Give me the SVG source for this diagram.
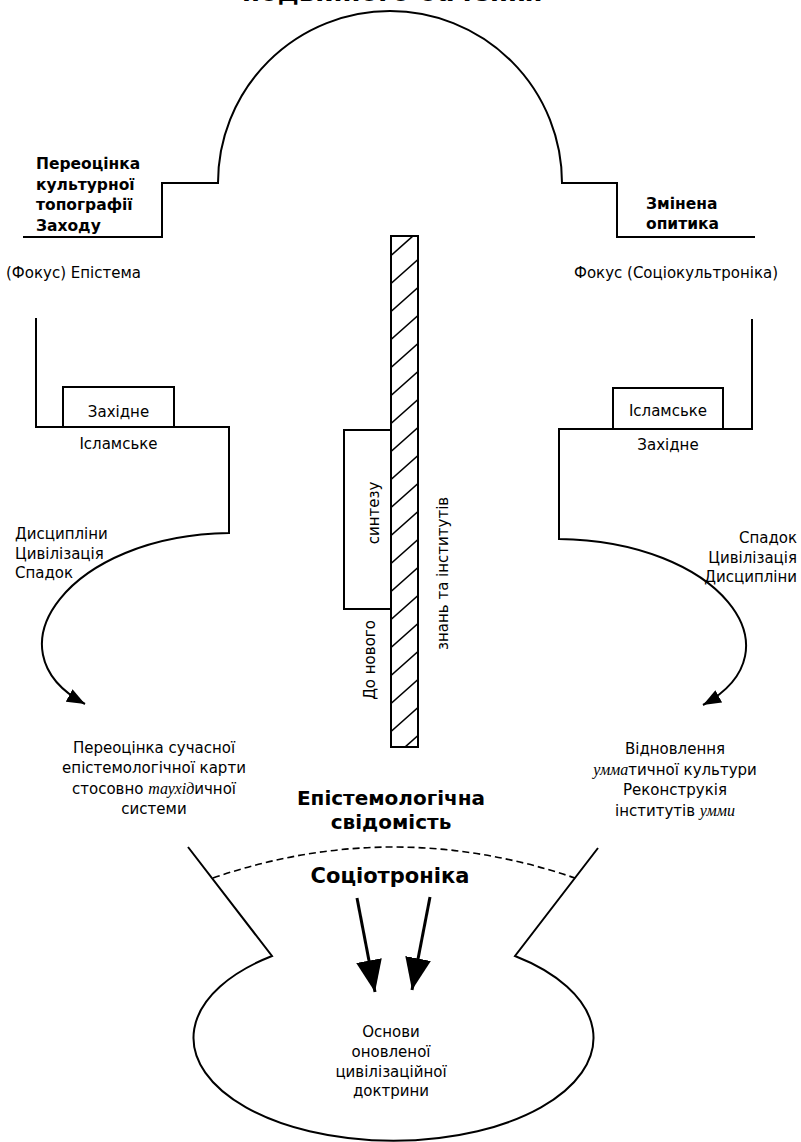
<svg xmlns="http://www.w3.org/2000/svg" width="801" height="1142" viewBox="0 0 801 1142">
<style>
.ln{fill:none;stroke:#000;stroke-width:2}
.bx{fill:#fff;stroke:#000;stroke-width:2}
.t{font-family:"DejaVu Sans","Noto Sans",sans-serif;font-size:15px;fill:#000}
.b{font-weight:bold}
.hb{font-size:15.5px}
.it{font-family:"Liberation Serif",serif;font-style:italic;font-size:16px}
.m{text-anchor:middle}
.e{text-anchor:end}
</style>
<defs>
<marker id="ah" viewBox="0 0 18 14" refX="18" refY="7" markerWidth="18" markerHeight="14" markerUnits="userSpaceOnUse" orient="auto">
<path d="M0,0 L18,7 L0,14 Z" fill="#000"/>
</marker>
<marker id="ahb" viewBox="0 0 32 26" refX="32" refY="13" markerWidth="32" markerHeight="26" markerUnits="userSpaceOnUse" orient="auto">
<path d="M0,0 L32,13 L0,26 Z" fill="#000"/>
</marker>
<clipPath id="barclip"><rect x="391" y="236" width="27" height="511"/></clipPath>
</defs>
<rect width="801" height="1142" fill="#fff"/>

<g id="title">
<text class="t b" x="242" y="1" style="font-size:26px">подвійного бачення</text>
</g>

<g id="dome">
<path class="ln" d="M23,237 H162 V183 H218 A172,172 0 0 1 562,183 H617 V237 H755"/>
</g>

<g id="left-title">
<text class="t b hb" x="36" y="169">Переоцінка</text>
<text class="t b hb" x="36" y="189.5">культурної</text>
<text class="t b hb" x="36" y="210">топографії</text>
<text class="t b hb" x="36" y="230.5">Заходу</text>
</g>

<g id="right-title">
<text class="t b hb" x="646" y="209">Змінена</text>
<text class="t b hb" x="646" y="229">опитика</text>
</g>

<g id="left-focus">
<text class="t" x="6" y="278">(Фокус) Епістема</text>
</g>
<g id="right-focus">
<text class="t" x="574" y="278">Фокус (Соціокультроніка)</text>
</g>

<g id="connectors">
<path class="ln" d="M36,318 V427 H229 V533 C70,535 -15,650 85,704" marker-end="url(#ah)"/>
<path class="ln" d="M752,319 V429 H559 V539 C718,541 803,650 703,705" marker-end="url(#ah)"/>
<path fill="none" stroke="#000" stroke-width="3" d="M357,898 L375,992" marker-end="url(#ahb)"/>
<path fill="none" stroke="#000" stroke-width="3" d="M430,897 L412,990" marker-end="url(#ahb)"/>
</g>

<g id="left-box">
<rect class="bx" x="63" y="387" width="111" height="40"/>
<text class="t m" x="118.5" y="416.5">Західне</text>
<text class="t m" x="118.5" y="449">Ісламське</text>
</g>

<g id="right-box">
<rect class="bx" x="613" y="388" width="110" height="41"/>
<text class="t m" x="668" y="415.5">Ісламське</text>
<text class="t m" x="668" y="450">Західне</text>
</g>

<g id="left-list">
<text class="t" x="15" y="539">Дисципліни</text>
<text class="t" x="15" y="558.5">Цивілізація</text>
<text class="t" x="15" y="578">Спадок</text>
</g>

<g id="right-list">
<text class="t e" x="797" y="543">Спадок</text>
<text class="t e" x="797" y="562.5">Цивілізація</text>
<text class="t e" x="797" y="582">Дисципліни</text>
</g>

<g id="left-result">
<text class="t m" x="154" y="753">Переоцінка сучасної</text>
<text class="t m" x="154" y="773.3">епістемологічної карти</text>
<text class="t m" x="154" y="793.6">стосовно <tspan class="it">таухід</tspan>ичної</text>
<text class="t m" x="154" y="813.9">системи</text>
</g>

<g id="right-result">
<text class="t m" x="675" y="754">Відновлення</text>
<text class="t m" x="675" y="774.5"><tspan class="it">умма</tspan>тичної культури</text>
<text class="t m" x="675" y="795">Реконструкія</text>
<text class="t m" x="675" y="815.5">інститутів <tspan class="it">умми</tspan></text>
</g>

<g id="bar">
<rect x="391" y="236" width="27" height="511" fill="#fff"/>
<g clip-path="url(#barclip)" stroke="#000" stroke-width="1.6">
<line x1="391" y1="759.5" x2="418" y2="735.5"/>
<line x1="391" y1="731.5" x2="418" y2="707.5"/>
<line x1="391" y1="703.5" x2="418" y2="679.5"/>
<line x1="391" y1="675.5" x2="418" y2="651.5"/>
<line x1="391" y1="647.5" x2="418" y2="623.5"/>
<line x1="391" y1="619.5" x2="418" y2="595.5"/>
<line x1="391" y1="591.5" x2="418" y2="567.5"/>
<line x1="391" y1="563.5" x2="418" y2="539.5"/>
<line x1="391" y1="535.5" x2="418" y2="511.5"/>
<line x1="391" y1="507.5" x2="418" y2="483.5"/>
<line x1="391" y1="479.5" x2="418" y2="455.5"/>
<line x1="391" y1="451.5" x2="418" y2="427.5"/>
<line x1="391" y1="423.5" x2="418" y2="399.5"/>
<line x1="391" y1="395.5" x2="418" y2="371.5"/>
<line x1="391" y1="367.5" x2="418" y2="343.5"/>
<line x1="391" y1="339.5" x2="418" y2="315.5"/>
<line x1="391" y1="311.5" x2="418" y2="287.5"/>
<line x1="391" y1="283.5" x2="418" y2="259.5"/>
<line x1="391" y1="255.5" x2="418" y2="231.5"/>
</g>
<rect class="ln" x="391" y="236" width="27" height="511"/>
<text class="t" transform="translate(448,650) rotate(-90)">знань та інститутів</text>
</g>

<g id="synthesis">
<rect class="bx" x="344" y="430" width="47" height="179"/>
<text class="t m" transform="translate(379,513) rotate(-90)">синтезу</text>
<text class="t m" transform="translate(375,660) rotate(-90)">До нового</text>
</g>

<g id="consciousness">
<text class="t b m" x="391" y="804.5" style="font-size:20px">Епістемологічна</text>
<text class="t b m" x="391" y="828.5" style="font-size:20px">свідомість</text>
</g>

<g id="funnel">
<path class="ln" d="M188,847 L272,956 A200,103 0 1 0 515,956 L598,848"/>
<path fill="none" stroke="#000" stroke-width="1.6" stroke-dasharray="7,4" d="M213,878 Q393,816 575,878"/>
<text class="t b m" x="390" y="883" style="font-size:21px">Соціотроніка</text>
<text class="t m" x="391" y="1037">Основи</text>
<text class="t m" x="391" y="1057">оновленої</text>
<text class="t m" x="391" y="1077">цивілізаційної</text>
<text class="t m" x="391" y="1096">доктрини</text>
</g>
</svg>
